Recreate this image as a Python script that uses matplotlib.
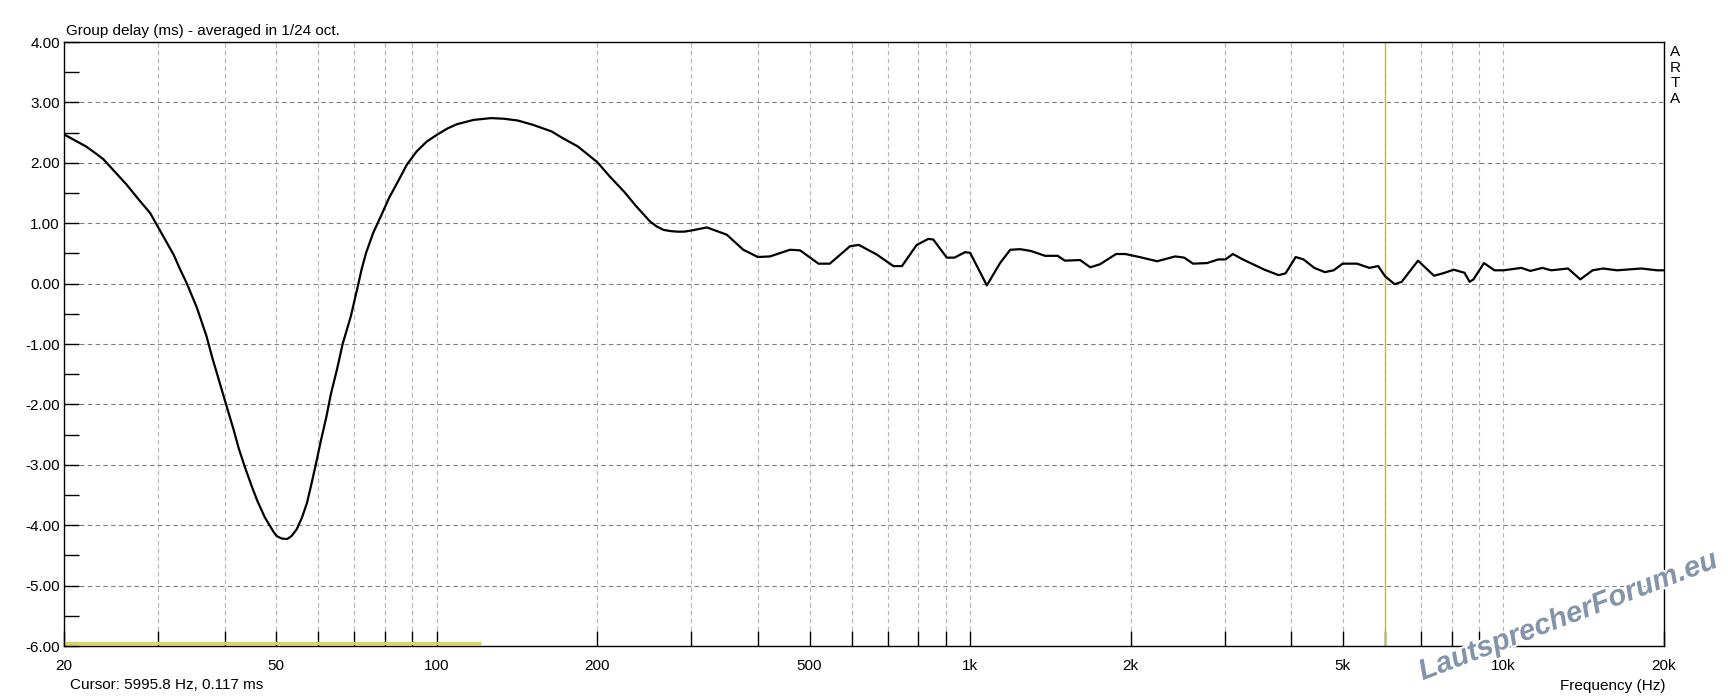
import matplotlib
matplotlib.use('Agg')
import matplotlib.pyplot as plt
import matplotlib.patheffects as pe
from matplotlib.ticker import FixedLocator, NullFormatter, MultipleLocator

freq_hz = [20, 22.0, 22.9, 23.7, 25.4, 26.2, 27.8, 29.0, 30.0, 32.1, 33.0, 34.0, 35.5, 37.0,
           38.0, 38.6, 40.2, 41.6, 42.5, 43.6, 45.0, 46.1, 47.6, 48.8, 49.5, 50.1, 51.2,
           52.4, 53.4, 54.6, 55.9, 57.1, 58.2, 59.3, 60.6, 62.1, 63.3, 65.0, 66.6, 69.0,
           71.3, 72.3, 73.7, 76.0, 78.6, 81.4, 84.2, 87.9, 91.7, 95.7, 99.9, 104.8, 109.2,
           117.2, 126.4, 133.4, 141.9, 151.3, 164.1, 172.1, 183.9, 200, 211.2, 224.6,
           236.6, 251, 258, 266, 274, 282, 291, 300.6, 320.9, 349.7, 375.6, 400, 421.5,
           459.6, 480, 519.6, 545.7, 595.6, 618.6, 668.5, 718, 745, 794, 835, 853, 904,
           935, 978, 1000, 1075, 1138, 1189, 1241, 1300, 1382, 1460, 1505, 1608, 1680,
           1752, 1878, 1953, 2077, 2242, 2424, 2520, 2618, 2782, 2919, 3011, 3110, 3246,
           3564, 3789, 3904, 4078, 4219, 4419, 4626, 4805, 4993, 5316, 5605, 5822, 6000,
           6252, 6445, 6915, 7409, 7700, 8065, 8449, 8643, 8786, 9193, 9620, 9996, 10807,
           11230, 11830, 12290, 13215, 13934, 14695, 15370, 16330, 18130, 19420, 20000]
delay_ms = [2.47, 2.27, 2.16, 2.06, 1.77, 1.64, 1.36, 1.17, 0.94, 0.48, 0.24, 0.0, -0.40, -0.87,
            -1.25, -1.45, -1.98, -2.42, -2.72, -3.02, -3.36, -3.60, -3.87, -4.03, -4.12, -4.18, -4.22,
            -4.23, -4.18, -4.07, -3.87, -3.63, -3.32, -3.0, -2.61, -2.20, -1.83, -1.42, -1.0, -0.54,
            0.0, 0.24, 0.51, 0.84, 1.12, 1.42, 1.66, 1.97, 2.19, 2.35, 2.46, 2.57, 2.64,
            2.71, 2.74, 2.73, 2.70, 2.63, 2.52, 2.41, 2.27, 2.01, 1.77, 1.52,
            1.28, 1.03, 0.95, 0.89, 0.87, 0.86, 0.86, 0.88, 0.93, 0.81, 0.56, 0.44, 0.45,
            0.56, 0.55, 0.33, 0.33, 0.62, 0.64, 0.48, 0.29, 0.29, 0.64, 0.74, 0.73, 0.43,
            0.43, 0.52, 0.51, -0.03, 0.34, 0.56, 0.57, 0.54, 0.46, 0.46, 0.38, 0.39, 0.27,
            0.32, 0.49, 0.49, 0.44, 0.37, 0.45, 0.43, 0.33, 0.34, 0.40, 0.40, 0.49, 0.40,
            0.23, 0.14, 0.17, 0.44, 0.40, 0.26, 0.19, 0.22, 0.33, 0.33, 0.26, 0.29, 0.12,
            -0.01, 0.03, 0.38, 0.13, 0.17, 0.23, 0.18, 0.03, 0.07, 0.34, 0.22, 0.22, 0.26,
            0.21, 0.26, 0.22, 0.25, 0.07, 0.22, 0.25, 0.22, 0.25, 0.22, 0.22]

x_major = [20, 50, 100, 200, 500, 1000, 2000, 5000, 10000, 20000]
x_labels = ['20', '50', '100', '200', '500', '1k', '2k', '5k', '10k', '20k']
x_minor = [30, 40, 60, 70, 80, 90, 300, 400, 600, 700, 800, 900,
           3000, 4000, 6000, 7000, 8000, 9000]

cursor_hz = 5995.8
window_hz = [20, 121]   # gelber Balken unten links
window_y = -5.95

plt.rcParams['font.family'] = ['Liberation Sans', 'DejaVu Sans']
fs = 11

fig = plt.figure(figsize=(17.28, 6.98), dpi=100)
W, H = 1728, 698
ax = fig.add_axes([64 / W, 1 - 646 / H, 1600 / W, 604 / H])

ax.set_xscale('log')
ax.set_xlim(20, 20000)
ax.set_ylim(-6, 4)

# Gitter und Achsen
ax.xaxis.set_major_locator(FixedLocator(x_major))
ax.xaxis.set_minor_locator(FixedLocator(x_minor))
ax.xaxis.set_minor_formatter(NullFormatter())
ax.set_xticklabels(x_labels)
ax.yaxis.set_major_locator(MultipleLocator(1))
ax.yaxis.set_minor_locator(MultipleLocator(0.5))
ax.set_yticklabels(['%.2f' % v for v in ax.get_yticks()])

ax.grid(True, axis='x', which='both', color='#b4b4b4', linestyle=(0, (4, 3)), linewidth=0.8)
ax.grid(True, axis='y', which='major', color='#808080', linestyle=(0, (4, 3)), linewidth=0.8)

ax.tick_params(axis='both', which='both', direction='in', length=11, width=1, colors='black',
               labelsize=fs, top=False, right=False)
ax.tick_params(axis='x', which='both', pad=9)
ax.tick_params(axis='y', which='both', pad=3)
for s in ax.spines.values():
    s.set_linewidth(1.0)
    s.set_color('black')

# Cursor und Fenster
ax.axvline(cursor_hz, color='#c8c400', linewidth=1.0, zorder=2)
ax.plot(window_hz, [window_y, window_y], color='#d6d46a', linewidth=2.4, solid_capstyle='butt', zorder=2)

# Kurve
ax.plot(freq_hz, delay_ms, color='black', linewidth=1.6, solid_joinstyle='round', zorder=3)

# Texte
fig.text(66 / W, 1 - 35 / H, 'Group delay (ms) - averaged in 1/24 oct.', fontsize=fs,
         ha='left', va='baseline')
fig.text(70 / W, 1 - 685 / H, 'Cursor: 5995.8 Hz, 0.117 ms', fontsize=fs, ha='left', va='center')
fig.text(1665 / W, 1 - 686 / H, 'Frequency (Hz)', fontsize=fs, ha='right', va='center')
for i, ch in enumerate('ARTA'):
    fig.text(1675 / W, 1 - (52 + i * 15.7) / H, ch, fontsize=fs, ha='center', va='center')

# Wasserzeichen
wm = fig.text(1568 / W, 1 - 616 / H, 'LautsprecherForum.eu', fontsize=21, fontweight='bold',
              fontstyle='italic', color='#8494ab', rotation=21, ha='center', va='center',
              rotation_mode='anchor', zorder=10)
wm.set_path_effects([pe.withStroke(linewidth=3, foreground='white')])

fig.savefig('out.png', dpi=100, facecolor='white')
